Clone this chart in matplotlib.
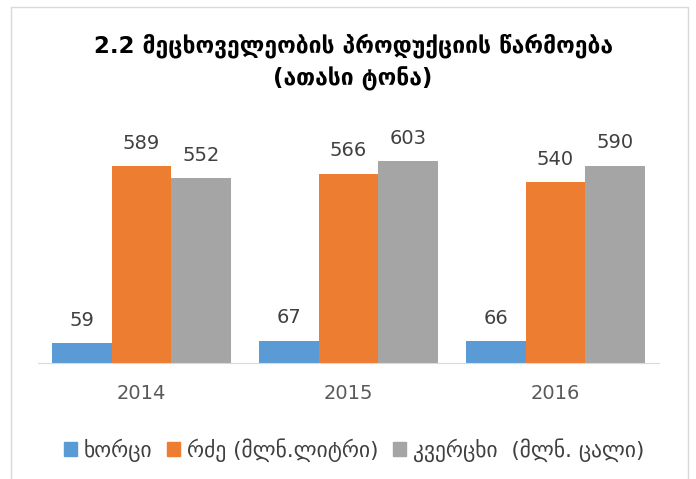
import matplotlib
matplotlib.use("Agg")
import matplotlib.pyplot as plt
import numpy as np
from matplotlib.patches import Rectangle, Patch

years = ["2014", "2015", "2016"]
series_names = ["ხორცი", "რძე (მლნ.ლიტრი)", "კვერცხი  (მლნ. ცალი)"]
meat = [59, 67, 66]
milk = [589, 566, 540]
eggs = [552, 603, 590]
colors = ["#5B9BD5", "#ED7D31", "#A5A5A5"]

plt.rcParams['font.family'] = ['DejaVu Sans']

W, H = 696, 479
fig = plt.figure(figsize=(W / 100, H / 100), dpi=100)

# chart border (open at the bottom, like the cropped original)
fig.patches.append(Rectangle((11 / W, -0.05), 677 / W, 1.05 - 7 / H, transform=fig.transFigure,
                             fill=False, edgecolor="#d9d9d9", linewidth=1))

ax = fig.add_axes([38 / W, 116 / H, 621 / W, 234 / H])
x = np.arange(len(years))
bw = 0.287
for i, vals in enumerate([meat, milk, eggs]):
    bars = ax.bar(x + (i - 1) * bw, vals, bw, color=colors[i], label=series_names[i])
    for b, v in zip(bars, vals):
        ax.text(b.get_x() + b.get_width() / 2, v + 40, str(v), ha="center", va="bottom",
                fontsize=14, color="#404040")

ax.set_xlim(-0.5, 2.5)
ax.set_ylim(0, 700)
ax.set_yticks([])
ax.set_xticks(x)
ax.set_xticklabels(years, fontsize=14, color="#595959")
ax.tick_params(axis="x", length=0, pad=15)
for s in ["top", "right", "left"]:
    ax.spines[s].set_visible(False)
ax.spines["bottom"].set_color("#d9d9d9")

fig.text(353 / W, 1 - 46 / H, "2.2 მეცხოველეობის პროდუქციის წარმოება", ha="center", va="center",
         fontsize=16.5, fontweight="semibold", color="black")
fig.text(353 / W, 1 - 79 / H, "(ათასი ტონა)", ha="center", va="center",
         fontsize=16.5, fontweight="semibold", color="black")

handles = [Patch(color=c) for c in colors]
fig.legend(handles, series_names, loc="center", bbox_to_anchor=(354 / W, 29 / H), ncol=3,
           frameon=False, fontsize=15.5, handlelength=0.6, handleheight=0.6,
           handletextpad=0.3, columnspacing=0.7, labelcolor="#404040")

fig.savefig("out.png", dpi=100)
